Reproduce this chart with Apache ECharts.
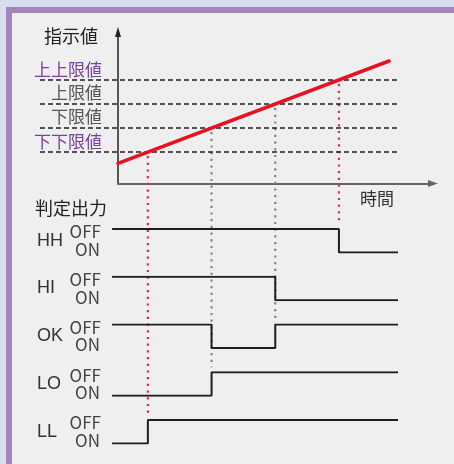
<!DOCTYPE html>
<html><head><meta charset="utf-8">
<script src="https://cdn.jsdelivr.net/npm/echarts@6/dist/echarts.min.js"></script>
<style>
html,body{margin:0;padding:0;background:#d9ddf0;width:454px;height:464px;overflow:hidden;}
#frame{position:absolute;left:6px;top:7px;width:448px;height:457px;box-sizing:border-box;border-top:6px solid #a583be;border-left:6px solid #a583be;background:#efefef;}
#chart{position:absolute;left:0;top:0;width:454px;height:464px;}
</style></head><body>
<div id="frame"></div><div id="chart"></div>
<script>
// ---- data ----
const thresholdNames = ['上上限値', '上限値', '下限値', '下下限値'];
const thresholdValues = [10.35, 7.95, 5.55, 3.15];
const indicatorTimes = [0, 10];
const indicatorValues = [2.02, 12.25];
const crossingTimes = [8.15, 5.8, 3.45, 1.1];
const signalNames = ['HH', 'HI', 'OK', 'LO', 'LL'];
const signalInitial = [1, 1, 1, 0, 0];           // 1 = OFF, 0 = ON
const signalToggles = [[8.15], [5.8], [3.45, 5.8], [3.45], [1.1]];
const signalTimeRange = [-0.22, 10.33];
const stateLabels = ['ON', 'OFF'];

// ---- styles / layout ----
const CJK = '"Noto Sans CJK JP", "Noto Sans", sans-serif';
const thresholdLabelStyle = ['outer', 'inner', 'inner', 'outer'];
const crossingColors = ['#d62a62', '#858585', '#858585', '#d62a62'];
const X_MAX = 11.62;
const WIDE_MIN = -2.88;            // time value at the left edge of the wide grids
const DASH_END = 10.3;
const AXIS_SHIFT = -78;            // moves wide-grid y axes onto the time origin
const ROW_TOP = 229, ROW_STEP = 47.75, ROW_H = 23.5;

const chart = echarts.init(document.getElementById('chart'), null, {renderer: 'canvas'});

function buildSignal(init, toggles) {
  let s = init;
  const pts = [[signalTimeRange[0], s]];
  toggles.forEach(t => { pts.push([t, s]); s = 1 - s; pts.push([t, s]); });
  pts.push([signalTimeRange[1], s]);
  return pts;
}

// grid 0: indicator chart axes + red line ; grid 1: wide overlay for dashed limit lines
const grids = [
  {left: 118, right: 21, top: 32, bottom: 280.5},
  {left: 40, right: 21, top: 32, bottom: 280.5}
];
const xAxes = [{
  gridIndex: 0, type: 'value', min: 0, max: X_MAX,
  axisLine: {show: true, onZero: false, symbol: ['none', 'triangle'], symbolSize: [7, 10],
    lineStyle: {color: '#6b6360', width: 2}},
  axisTick: {show: false}, axisLabel: {show: false}, splitLine: {show: false},
  name: '時間', nameLocation: 'end', nameGap: -73, nameMoveOverlap: false,
  nameTextStyle: {fontFamily: CJK, fontSize: 17, color: '#333', align: 'left', verticalAlign: 'top', lineHeight: 31}
}, {
  gridIndex: 1, type: 'value', min: WIDE_MIN, max: X_MAX, show: false
}];
const yAxes = [{
  gridIndex: 0, type: 'value', min: 0, max: 15.15,
  axisLine: {show: true, onZero: false, symbol: ['none', 'triangle'], symbolSize: [6, 10],
    lineStyle: {color: '#2a2020', width: 1.5}},
  axisTick: {show: false}, splitLine: {show: false},
  axisLabel: {
    customValues: thresholdValues, margin: 16, verticalAlign: 'middle',
    formatter: function (v) {
      let k = 0, best = 1e9;
      thresholdValues.forEach((tv, i) => { if (Math.abs(tv - v) < best) { best = Math.abs(tv - v); k = i; } });
      return '{' + thresholdLabelStyle[k] + '|' + thresholdNames[k] + '}';
    },
    rich: {
      outer: {fontFamily: CJK, fontSize: 17, color: '#7b3fa0', padding: [0, 0, 21, 0]},
      inner: {fontFamily: CJK, fontSize: 17, color: '#555555', padding: [0, 0, 22, 0]}
    }
  },
  name: '指示値', nameLocation: 'end', nameGap: -4, nameMoveOverlap: false,
  nameTextStyle: {fontFamily: CJK, fontSize: 18, color: '#222', align: 'right', verticalAlign: 'middle', padding: [0, 20, 0, 0]}
}, {
  gridIndex: 1, type: 'value', min: 0, max: 15.15, show: false
}];

const series = [];
thresholdValues.forEach((v) => {
  series.push({
    type: 'line', xAxisIndex: 1, yAxisIndex: 1, silent: true, symbol: 'none', z: 2,
    data: [[WIDE_MIN, v], [DASH_END, v]],
    lineStyle: {color: '#1f1f1f', width: 1.3, type: [5, 3]}
  });
});
series.push({
  type: 'line', xAxisIndex: 0, yAxisIndex: 0, silent: true, symbol: 'none', z: 5,
  data: indicatorTimes.map((t, i) => [t, indicatorValues[i]]),
  lineStyle: {color: '#e8111d', width: 3.5, cap: 'round'}
});

const ROW_BASE = 2;
signalNames.forEach((name, i) => {
  const g = ROW_BASE + i;
  grids.push({left: 40, right: 21, top: ROW_TOP + i * ROW_STEP, height: ROW_H});
  xAxes.push({gridIndex: g, type: 'value', min: WIDE_MIN, max: X_MAX, show: false});
  yAxes.push({
    gridIndex: g, type: 'value', min: 0, max: 1, interval: 1, offset: AXIS_SHIFT,
    axisLine: {show: false}, axisTick: {show: false}, splitLine: {show: false},
    axisLabel: {
      margin: 17, verticalAlign: 'middle',
      formatter: v => (v >= 0.5 ? '{off|' + stateLabels[1] + '}' : '{on|' + stateLabels[0] + '}'),
      rich: {
        off: {fontFamily: CJK, fontSize: 17, color: '#444', padding: [6, 0, 0, 0]},
        on: {fontFamily: CJK, fontSize: 17, color: '#444', padding: [0, 1, 6, 0]}
      }
    },
    name: name, nameLocation: 'middle', nameRotate: 0, nameGap: 81, nameMoveOverlap: false,
    nameTextStyle: {fontFamily: '"Liberation Sans", sans-serif', fontSize: 18, color: '#333', align: 'left', verticalAlign: 'middle'}
  });
  series.push({
    type: 'line', xAxisIndex: g, yAxisIndex: g, silent: true, symbol: 'none', z: 3,
    data: buildSignal(signalInitial[i], signalToggles[i]),
    lineStyle: {color: '#1e1e1e', width: 2}
  });
});

chart.setOption({
  animation: false,
  backgroundColor: 'transparent',
  title: {text: '判定出力', left: 35, top: 199, padding: 0,
    textStyle: {fontFamily: CJK, fontSize: 18, fontWeight: 'normal', color: '#222'}},
  grid: grids, xAxis: xAxes, yAxis: yAxes, series: series
});

// dotted drop lines from each crossing down to the lowest row that switches there
const drops = crossingTimes.map((t, k) => {
  let row = 0;
  signalToggles.forEach((tg, i) => { if (tg.indexOf(t) >= 0) row = i; });
  const a = chart.convertToPixel({gridIndex: 0}, [t, thresholdValues[k]]);
  const b = chart.convertToPixel({gridIndex: ROW_BASE + row}, [t, 1]);
  return {
    type: 'line', silent: true, z: 1,
    shape: {x1: a[0], y1: a[1] + 4, x2: b[0], y2: b[1] - 5},
    style: {stroke: crossingColors[k], lineWidth: 2.2, lineDash: [2.2, 4.5]}
  };
});
chart.setOption({graphic: drops});
</script>
</body></html>
